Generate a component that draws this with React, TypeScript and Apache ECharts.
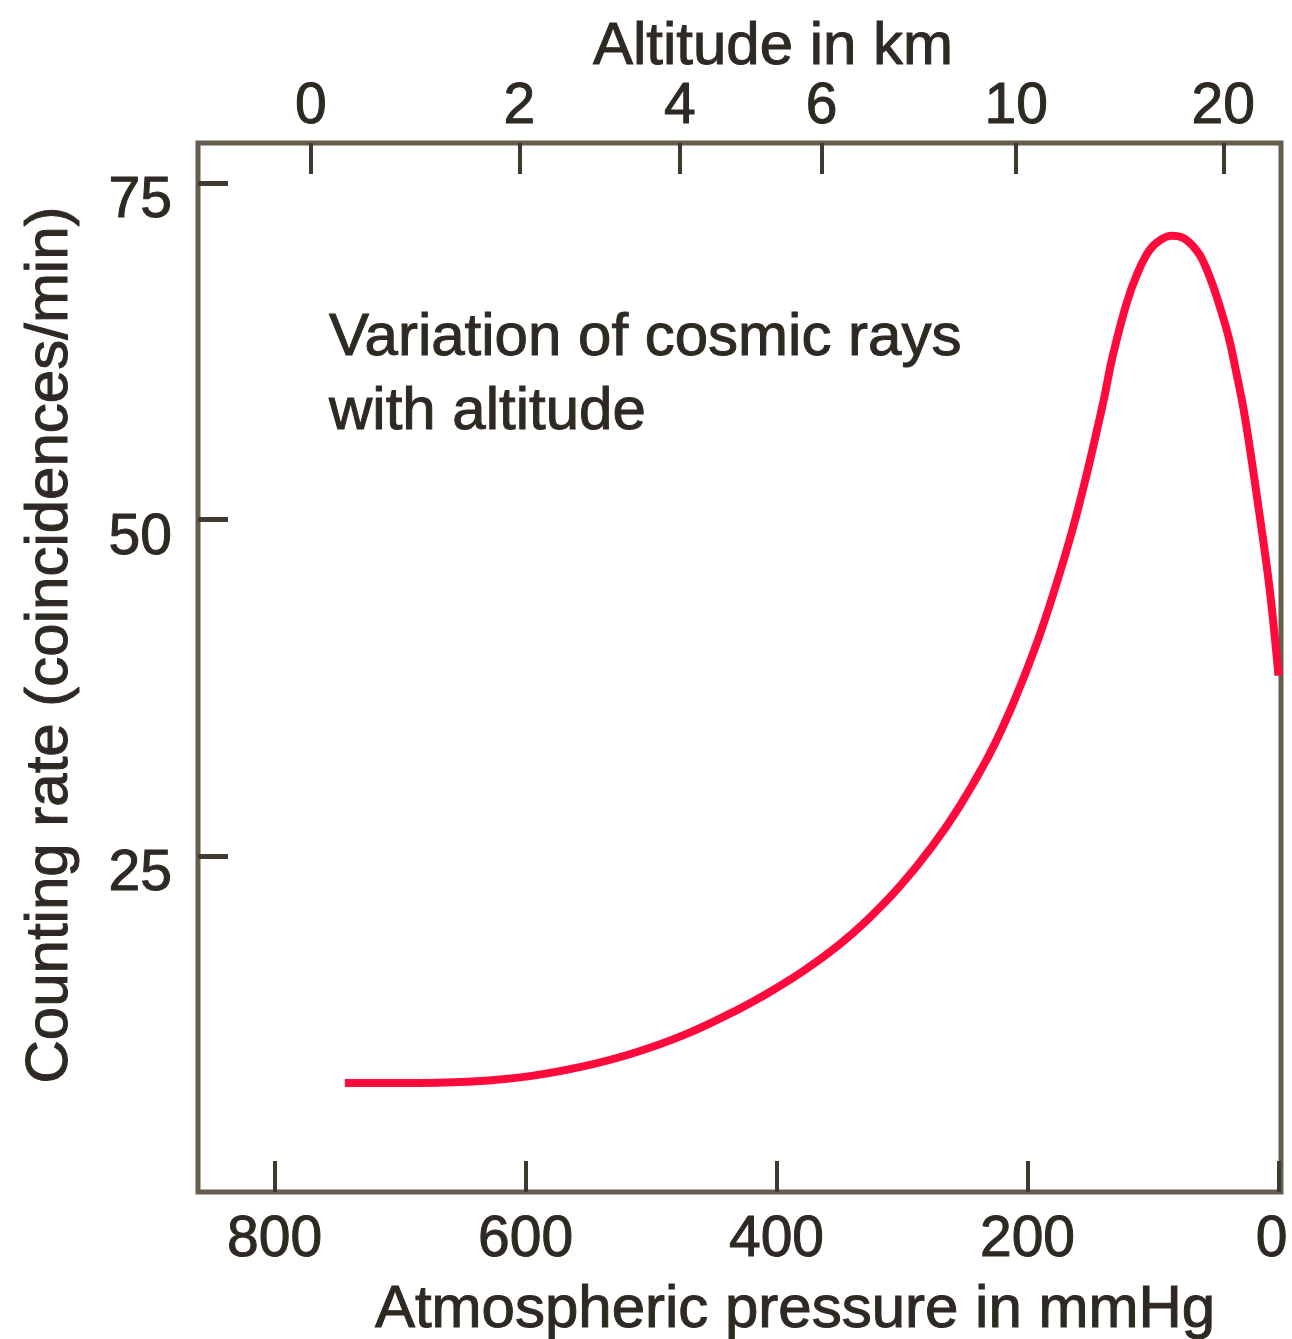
import { useEffect, useRef } from "react";
import * as echarts from "echarts";

// Curve: atmospheric pressure (mmHg) vs counting rate (coincidences/min)
const pressureMmHg = [744, 700, 646, 598, 556, 515, 473, 430, 403, 376, 350, 328, 302, 276, 254, 230, 212, 193, 177, 164, 153, 145, 139, 132, 121, 112, 103, 94, 85, 77, 71, 66, 61, 53, 45, 39, 34, 28, 23, 15, 7, 0];
const countingRate = [8.1, 8.1, 8.2, 8.6, 9.3, 10.3, 11.7, 13.6, 15.0, 16.6, 18.4, 20.2, 22.7, 25.7, 28.7, 32.6, 36.2, 40.7, 45.2, 49.3, 53.3, 56.5, 59.0, 62.2, 66.1, 68.4, 70.0, 70.8, 71.1, 71.0, 70.6, 70.1, 69.4, 67.6, 65.3, 63.3, 61.1, 58.3, 55.4, 50.3, 44.8, 38.4];

// Tick labels
const pressureTicks = [800, 600, 400, 200, 0];
const rateTicks = [25, 50, 75];
const altitudeLabels = ["0", "2", "4", "6", "10", "20"];
const altitudePressure = [771, 605, 477, 364, 209, 44];

const FONT = "'Liberation Sans', Arial, Helvetica, sans-serif";
const TEXT = "#2e2a23";
const FRAME = "#655d4d";
const TICK = "#3f392f";

export default function App() {
  const ref = useRef<HTMLDivElement>(null);

  useEffect(() => {
    if (!ref.current) return;
    const chart = echarts.init(ref.current, undefined, { renderer: "svg" });
    const labelStyle = { fontSize: 57, color: TEXT, fontFamily: FONT, textBorderColor: TEXT, textBorderWidth: 1 };
    const richBase = { fontSize: 57, color: TEXT, fontFamily: FONT, textBorderColor: TEXT, textBorderWidth: 1 };
    const titleStyle = (text: string, align: string) => ({
      text,
      fontSize: 60,
      fontFamily: FONT,
      fill: TEXT,
      stroke: TEXT,
      lineWidth: 1,
      align,
      textAlign: align,
      verticalAlign: "middle",
      textVerticalAlign: "middle",
    });
    const option: any = {
      animation: false,
      backgroundColor: "#ffffff",
      grid: {
        left: 198,
        top: 143,
        width: 1083,
        height: 1049,
        show: true,
        borderColor: FRAME,
        borderWidth: 5,
        backgroundColor: "transparent",
        containLabel: false,
        outerBoundsMode: "none",
      },
      xAxis: [
        {
          type: "value",
          position: "bottom",
          inverse: true,
          min: -2,
          max: 861,
          axisLine: { show: false, onZero: false },
          splitLine: { show: false },
          axisTick: { show: true, inside: true, length: 31, lineStyle: { color: TICK, width: 4 }, customValues: pressureTicks },
          axisLabel: {
            ...labelStyle,
            margin: 15,
            customValues: pressureTicks,
            formatter: (v: number) => (v === 0 ? "{edge|0}" : String(v)),
            rich: { edge: { ...richBase, padding: [0, 14, 0, 0] } },
          },
        },
        {
          type: "value",
          position: "top",
          inverse: true,
          min: -2,
          max: 861,
          axisLine: { show: false, onZero: false },
          splitLine: { show: false },
          axisTick: { show: true, inside: true, length: 31, lineStyle: { color: TICK, width: 4 }, customValues: altitudePressure },
          axisLabel: {
            ...labelStyle,
            margin: 12,
            customValues: altitudePressure,
            formatter: (v: number) => {
              const i = altitudePressure.indexOf(Math.round(v));
              return i >= 0 ? altitudeLabels[i] : "";
            },
          },
        },
      ],
      yAxis: {
        type: "value",
        position: "left",
        min: 0,
        max: 78,
        axisLine: { show: false, onZero: false },
        splitLine: { show: false },
        axisTick: { show: true, inside: true, length: 30, lineStyle: { color: TICK, width: 5 }, customValues: rateTicks },
        axisLabel: {
          ...labelStyle,
          margin: 26,
          customValues: rateTicks,
          formatter: (v: number) => "{low|" + v + "}",
          rich: { low: { ...richBase, padding: [28, 0, 0, 0] } },
        },
      },
      series: [
        {
          type: "line",
          xAxisIndex: 0,
          yAxisIndex: 0,
          data: pressureMmHg.map((p, i) => [p, countingRate[i]]),
          showSymbol: false,
          symbol: "none",
          smooth: 0.4,
          lineStyle: { color: "#ff0a3c", width: 8, cap: "butt" },
          z: 3,
        },
      ],
      graphic: [
        { type: "text", x: 773, y: 43, style: titleStyle("Altitude in km", "center") },
        { type: "text", x: 795, y: 1306, style: titleStyle("Atmospheric pressure in mmHg", "center") },
        { type: "text", x: 46, y: 645, rotation: Math.PI / 2, style: titleStyle("Counting rate (coincidences/min)", "center") },
        { type: "text", x: 329, y: 334, style: titleStyle("Variation of cosmic rays", "left") },
        { type: "text", x: 329, y: 408, style: titleStyle("with altitude", "left") },
      ],
    };
    chart.setOption(option);
    return () => chart.dispose();
  }, []);

  return <div ref={ref} style={{ position: "absolute", left: 0, top: 0, width: 1292, height: 1339 }} />;
}
